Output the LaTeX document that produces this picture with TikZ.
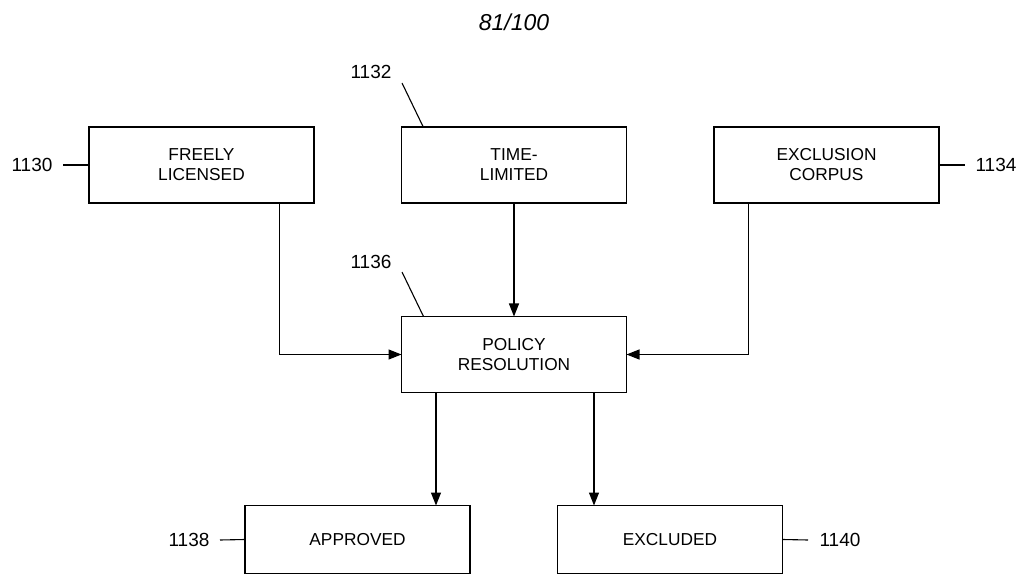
\documentclass[tikz,border=0pt]{standalone}
\usepackage{fontspec}
\setmainfont{Liberation Sans}
\usetikzlibrary{arrows.meta}
\begin{document}
\begin{tikzpicture}[x=1pt,y=-1pt,
  box/.style={draw,line width=1.3pt,minimum width=225pt,minimum height=76pt,inner sep=0pt,outer sep=0pt,align=center,font=\fontsize{17.3}{20}\selectfont},
  lowbox/.style={box,minimum height=68pt},
  ref/.style={font=\fontsize{19}{22}\selectfont,inner sep=0pt},
  lead/.style={line width=1.1pt},
  arr/.style={line width=1.3pt,-{Triangle[length=13pt,width=10pt]}}]
\useasboundingbox (0,0) rectangle (1029,577);
\node[font=\fontsize{23}{26}\selectfont\itshape] (title) at (514,22) {81/100};
\node[box] (fl) at (201.5,165) {FREELY\\LICENSED};
\node[box] (tl) at (514,165) {TIME-\\LIMITED};
\node[box] (ec) at (826.5,165) {EXCLUSION\\CORPUS};
\node[box] (pr) at (514,354.5) {POLICY\\RESOLUTION};
\node[lowbox] (ap) at (357.5,539.5) {APPROVED};
\node[lowbox] (ex) at (670,539.5) {EXCLUDED};
\node[ref] (r1130) at (32,165) {1130};
\node[ref] (r1132) at (371,72) {1132};
\node[ref] (r1134) at (996,165) {1134};
\node[ref] (r1136) at (371,262) {1136};
\node[ref] (r1138) at (189,540) {1138};
\node[ref] (r1140) at (840,540) {1140};
\coordinate (c1130) at (63,165);
\coordinate (c1132a) at (402,83);
\coordinate (c1132b) at (423,126.5);
\coordinate (c1134) at (965,165);
\coordinate (c1136a) at (402,272);
\coordinate (c1136b) at (423.5,316.5);
\coordinate (c1138) at (220,540);
\coordinate (c1140) at (808,540);
\draw[lead] (c1130) -- (fl.west);
\draw[lead] (c1132a) -- (c1132b);
\draw[lead] (ec.east) -- (c1134);
\draw[lead] (c1136a) -- (c1136b);
\draw[lead] (c1138) -- (ap.west);
\draw[lead] (ex.east) -- (c1140);
\draw[arr] ([xshift=78pt]fl.south) |- (pr.west);
\draw[arr] ([xshift=-78pt]ec.south) |- (pr.east);
\draw[arr] (tl.south) -- (pr.north);
\draw[arr] ([xshift=-78pt]pr.south) -- ([xshift=-78pt]pr.south |- ap.north);
\draw[arr] ([xshift=80pt]pr.south) -- ([xshift=80pt]pr.south |- ex.north);
\end{tikzpicture}
\end{document}
